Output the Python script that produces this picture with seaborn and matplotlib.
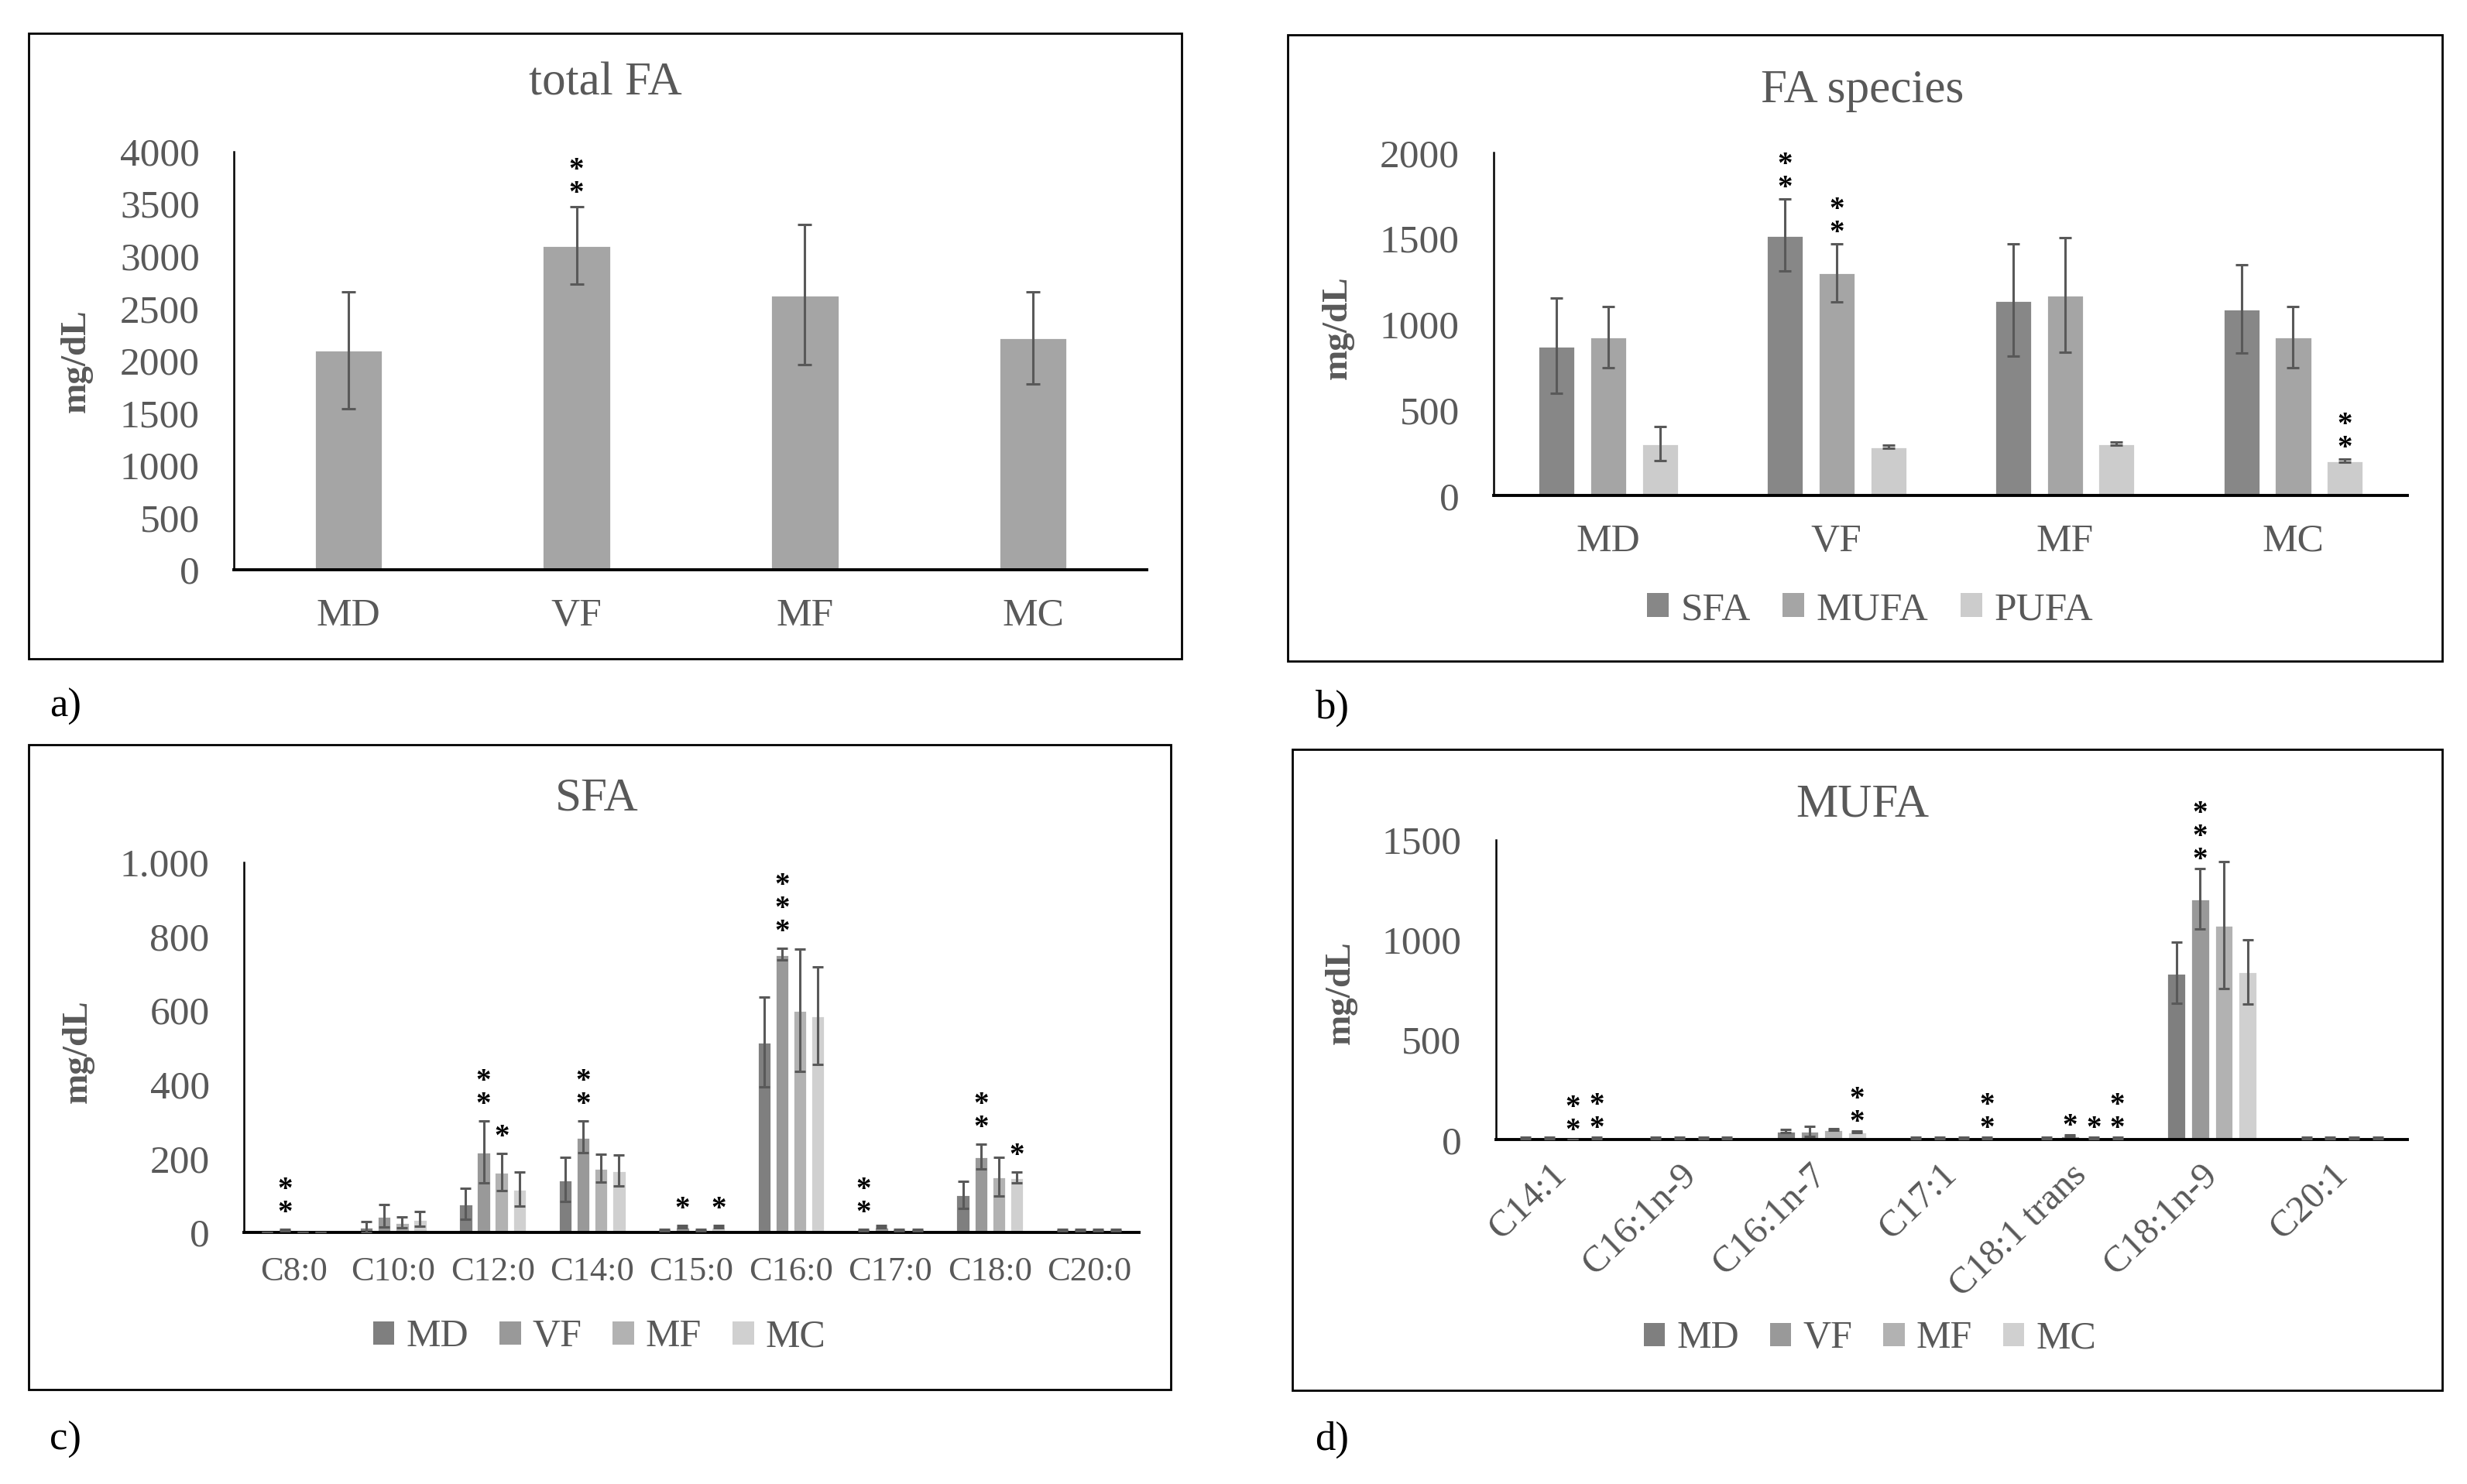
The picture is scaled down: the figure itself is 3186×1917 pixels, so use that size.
import pandas as pd
import seaborn as sns
import matplotlib.pyplot as plt
from matplotlib.patches import Rectangle, Patch

# ---- values (mg/dL, mean and error) ----
groups = ['MD', 'VF', 'MF', 'MC']
species = ['SFA', 'MUFA', 'PUFA']

# a) total FA
total_fa = [2100, 3100, 2630, 2220]
total_fa_err = [560, 370, 670, 440]

# b) FA species per group
sfa_total = [875, 1520, 1140, 1090]
sfa_total_err = [278, 210, 328, 258]
mufa_total = [925, 1300, 1170, 925]
mufa_total_err = [178, 168, 335, 178]
pufa_total = [305, 285, 305, 205]
pufa_total_err = [100, 10, 10, 10]

# c) SFA
sfa_names = ['C8:0', 'C10:0', 'C12:0', 'C14:0', 'C15:0', 'C16:0', 'C17:0', 'C18:0', 'C20:0']
sfa_md = [0, 15, 78, 143, 6, 515, 6, 102, 6]
sfa_md_err = [0, 14, 42, 59, 2, 122, 2, 36, 2]
sfa_vf = [6, 45, 218, 258, 15, 752, 15, 205, 6]
sfa_vf_err = [2, 31, 83, 43, 3, 15, 3, 34, 2]
sfa_mf = [0, 28, 163, 174, 6, 600, 6, 150, 6]
sfa_mf_err = [0, 15, 50, 38, 2, 165, 2, 52, 2]
sfa_mc = [0, 36, 117, 168, 15, 585, 6, 148, 6]
sfa_mc_err = [0, 20, 46, 42, 3, 132, 2, 15, 2]

# d) MUFA
mufa_names = ['C14:1', 'C16:1n-9', 'C16:1n-7', 'C17:1', 'C18:1 trans', 'C18:1n-9', 'C20:1']
mufa_md = [8, 8, 45, 8, 8, 835, 8]
mufa_md_err = [3, 3, 8, 3, 3, 152, 3]
mufa_vf = [8, 8, 43, 8, 20, 1205, 8]
mufa_vf_err = [3, 3, 25, 3, 4, 152, 3]
mufa_mf = [0, 8, 52, 8, 8, 1075, 8]
mufa_mf_err = [0, 3, 4, 3, 3, 318, 3]
mufa_mc = [8, 8, 38, 8, 8, 840, 8]
mufa_mc_err = [3, 3, 4, 3, 3, 160, 3]

# significance marks: (category, series, number of stars)
stars_a = [('VF', None, 2)]
stars_b = [('VF', 'SFA', 2), ('VF', 'MUFA', 2), ('MC', 'PUFA', 2)]
stars_c = [('C8:0', 'VF', 2), ('C12:0', 'VF', 2), ('C12:0', 'MF', 1), ('C14:0', 'VF', 2),
           ('C15:0', 'VF', 1), ('C15:0', 'MC', 1), ('C16:0', 'VF', 3), ('C17:0', 'MD', 2),
           ('C18:0', 'VF', 2), ('C18:0', 'MC', 1)]
stars_d = [('C14:1', 'MF', 2), ('C14:1', 'MC', 2), ('C16:1n-7', 'MC', 2), ('C17:1', 'MC', 2),
           ('C18:1 trans', 'VF', 1), ('C18:1 trans', 'MF', 1), ('C18:1 trans', 'MC', 2),
           ('C18:1n-9', 'VF', 3)]

grey_txt = '#595959'
pal_species = ['#878787', '#A5A5A5', '#CCCCCC']
pal_groups = ['#7F7F7F', '#999999', '#B2B2B2', '#D0D0D0']

sns.set_style('white')
plt.rcParams['font.family'] = ['Liberation Serif', 'DejaVu Serif']
plt.rcParams['text.color'] = grey_txt
plt.rcParams['axes.labelcolor'] = grey_txt
plt.rcParams['xtick.color'] = grey_txt
plt.rcParams['ytick.color'] = grey_txt

STAR_FS = 14


def long_table(cats, series_names, values):
    rows = []
    for name, vals in zip(series_names, values):
        for c, v in zip(cats, vals):
            rows.append({'cat': c, 'series': name, 'val': v})
    return pd.DataFrame(rows)


def bar_positions(ax):
    # one container per series, bars sorted left to right = category order
    out = []
    for cont in ax.containers:
        ps = sorted(cont.patches, key=lambda p: p.get_x())
        out.append([(p.get_x() + p.get_width() / 2, p.get_height()) for p in ps])
    return out


def draw_err(ax, errs, capsize):
    pos = bar_positions(ax)
    for series_pos, series_err in zip(pos, errs):
        xs = [p[0] for p in series_pos]
        ys = [p[1] for p in series_pos]
        ax.errorbar(xs, ys, yerr=series_err, fmt='none', ecolor=grey_txt,
                    elinewidth=1.1, capsize=capsize, capthick=1.1, zorder=3)
    return pos


def draw_stars(ax, pos, errs, cats, series_names, marks, gap):
    # stacked asterisks as one text; gap = points from error-bar top to lowest star centre
    for cat, ser, n in marks:
        i = 0 if ser is None else series_names.index(ser)
        j = cats.index(cat)
        x, h = pos[i][j]
        top = h + errs[i][j]
        ax.annotate('\n'.join(['*'] * n), xy=(x, top),
                    xytext=(0, gap - 0.77 * STAR_FS), textcoords='offset points',
                    ha='center', va='bottom', linespacing=0.75,
                    fontsize=STAR_FS, fontweight='bold', color='black')


def add_legend(ax, labels, colors, anchor, fs):
    handles = [Patch(facecolor=c, edgecolor='none') for c in colors]
    ax.legend(handles, labels, loc='center', bbox_to_anchor=anchor,
              bbox_transform=ax.figure.transFigure, ncol=len(labels), frameon=False,
              fontsize=fs, labelcolor=grey_txt, handlelength=0.55, handleheight=0.55,
              handletextpad=0.3, columnspacing=0.8, borderpad=0)


def style_axes(ax, n_cats, ylim, yticks, ylabels=None):
    ax.set_xlim(-0.5, n_cats - 0.5)
    ax.set_ylim(*ylim)
    ax.set_yticks(yticks)
    if ylabels is not None:
        ax.set_yticklabels(ylabels)
    ax.set_xlabel('')
    ax.set_ylabel('mg/dL', fontsize=17, fontweight='bold')
    sns.despine(ax=ax)
    ax.spines['left'].set_color('black')
    ax.spines['left'].set_linewidth(0.9)
    ax.spines['bottom'].set_color('black')
    ax.spines['bottom'].set_linewidth(1.4)
    ax.tick_params(axis='both', length=0)
    ax.tick_params(axis='y', pad=16, labelsize=18.5)


fig = plt.figure(figsize=(15.93, 9.585), dpi=200)

# panel frames
for (x0, y0, x1, y1) in [(0.0116, 0.556, 0.479, 0.9776), (0.522, 0.5545, 0.990, 0.9766),
                         (0.0116, 0.0636, 0.4746, 0.498), (0.524, 0.063, 0.990, 0.495)]:
    fig.patches.append(Rectangle((x0, y0), x1 - x0, y1 - y0, transform=fig.transFigure,
                                 fill=False, edgecolor='black', linewidth=1.0))

# ---- a) total FA ----
ax_a = fig.add_axes([0.0949, 0.616, 0.465 - 0.0949, 0.898 - 0.616])
sns.barplot(x=groups, y=total_fa, color='#A5A5A5', width=0.3, saturation=1,
            errorbar=None, ax=ax_a)
pos_a = draw_err(ax_a, [total_fa_err], capsize=3.2)
draw_stars(ax_a, pos_a, [total_fa_err], groups, [None], stars_a, gap=10)
style_axes(ax_a, len(groups), (0, 4000), range(0, 4001, 500))
ax_a.tick_params(axis='x', pad=13, labelsize=18.5)
ax_a.yaxis.set_label_coords(-0.155, 0.5)
fig.text(0.2455, 0.944, 'total FA', ha='center', va='center', fontsize=22)

# ---- b) FA species ----
ax_b = fig.add_axes([0.6056, 0.666, 0.9758 - 0.6056, 0.897 - 0.666])
df_b = long_table(groups, species, [sfa_total, mufa_total, pufa_total])
err_b = [sfa_total_err, mufa_total_err, pufa_total_err]
sns.barplot(data=df_b, x='cat', y='val', hue='series', hue_order=species, order=groups,
            palette=pal_species, width=0.68, gap=0.28, saturation=1, errorbar=None,
            legend=False, ax=ax_b)
pos_b = draw_err(ax_b, err_b, capsize=3.0)
draw_stars(ax_b, pos_b, err_b, groups, species, stars_b, gap=9)
style_axes(ax_b, len(groups), (0, 2000), range(0, 2001, 500))
ax_b.tick_params(axis='x', pad=13, labelsize=18.5)
ax_b.yaxis.set_label_coords(-0.153, 0.49)
add_legend(ax_b, species, pal_species, (0.758, 0.589), 18.5)
fig.text(0.755, 0.939, 'FA species', ha='center', va='center', fontsize=22)

# ---- c) SFA ----
ax_c = fig.add_axes([0.0989, 0.1695, 0.4617 - 0.0989, 0.4189 - 0.1695])
df_c = long_table(sfa_names, groups, [sfa_md, sfa_vf, sfa_mf, sfa_mc])
err_c = [sfa_md_err, sfa_vf_err, sfa_mf_err, sfa_mc_err]
sns.barplot(data=df_c, x='cat', y='val', hue='series', hue_order=groups, order=sfa_names,
            palette=pal_groups, width=0.72, gap=0.2, saturation=1, errorbar=None,
            legend=False, ax=ax_c)
pos_c = draw_err(ax_c, err_c, capsize=2.6)
draw_stars(ax_c, pos_c, err_c, sfa_names, groups, stars_c, gap=11.5)
style_axes(ax_c, len(sfa_names), (0, 1000), range(0, 1001, 200),
           ['0', '200', '400', '600', '800', '1.000'])
ax_c.tick_params(axis='x', pad=11, labelsize=16)
ax_c.yaxis.set_label_coords(-0.167, 0.49)
add_legend(ax_c, groups, pal_groups, (0.243, 0.099), 18)
fig.text(0.242, 0.462, 'SFA', ha='center', va='center', fontsize=22)

# ---- d) MUFA ----
ax_d = fig.add_axes([0.6064, 0.232, 0.9758 - 0.6064, 0.434 - 0.232])
df_d = long_table(mufa_names, groups, [mufa_md, mufa_vf, mufa_mf, mufa_mc])
err_d = [mufa_md_err, mufa_vf_err, mufa_mf_err, mufa_mc_err]
sns.barplot(data=df_d, x='cat', y='val', hue='series', hue_order=groups, order=mufa_names,
            palette=pal_groups, width=0.73, gap=0.19, saturation=1, errorbar=None,
            legend=False, ax=ax_d)
pos_d = draw_err(ax_d, err_d, capsize=2.6)
draw_stars(ax_d, pos_d, err_d, mufa_names, groups, stars_d, gap=8)
style_axes(ax_d, len(mufa_names), (0, 1500), range(0, 1501, 500))
ax_d.tick_params(axis='x', pad=14, labelsize=17.5)
for lab in ax_d.get_xticklabels():
    lab.set_rotation(44)
    lab.set_ha('right')
    lab.set_va('center')
    lab.set_rotation_mode('anchor')
ax_d.yaxis.set_label_coords(-0.152, 0.49)
add_legend(ax_d, groups, pal_groups, (0.758, 0.098), 18)
fig.text(0.755, 0.4575, 'MUFA', ha='center', va='center', fontsize=22)

# panel letters
for x, y, t in [(0.020, 0.524, 'a)'), (0.533, 0.523, 'b)'),
                (0.020, 0.0297, 'c)'), (0.533, 0.0297, 'd)')]:
    fig.text(x, y, t, ha='left', va='center', fontsize=19, color='black')

fig.savefig('out.png', dpi=200)
